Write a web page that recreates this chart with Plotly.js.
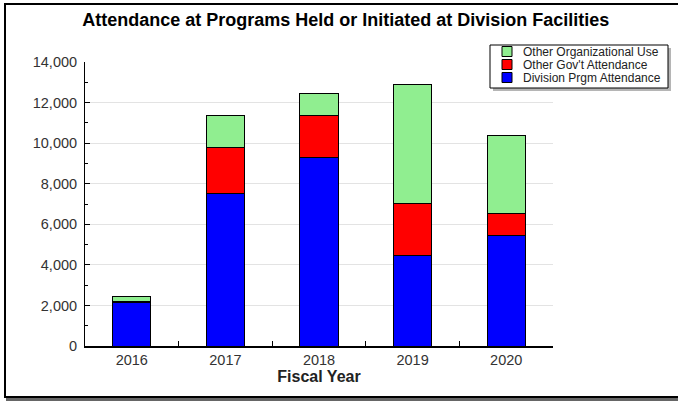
<!DOCTYPE html>
<html>
<head>
<meta charset="utf-8">
<script src="https://cdn.plot.ly/plotly-3.0.1.min.js"></script>
<style>
  html, body { margin:0; padding:0; background:#fff; }
  #wrap { position:relative; width:678px; height:401px; overflow:hidden; }
  #chart { position:absolute; left:0; top:0; width:678px; height:401px; }
  #frame { position:absolute; left:4px; top:3px; width:700px; height:391px;
           border-left:2px solid #000; border-top:2px solid #000; border-bottom:2px solid #000;
           box-shadow: 2px 4px 0 #666; pointer-events:none; }
</style>
</head>
<body>
<div id="wrap">
  <div id="chart"></div>
  <div id="frame"></div>
</div>
<script>
const years = ['2016', '2017', '2018', '2019', '2020'];
const divisionPrgm = [2150, 7540, 9300, 4450, 5470];
const otherGov = [60, 2250, 2070, 2580, 1050];
const otherOrg = [240, 1580, 1100, 5850, 3880];
const yTickVals = [0, 2000, 4000, 6000, 8000, 10000, 12000, 14000];
const yTickText = ['0', '2,000', '4,000', '6,000', '8,000', '10,000', '12,000', '14,000'];
const seriesNames = ['Division Prgm Attendance', "Other Gov't Attendance", 'Other Organizational Use'];
const seriesColors = ['#0000FF', '#FF0000', '#90EE90'];

const M = {l: 85, r: 125, t: 62, b: 55};
const W = 678, H = 401;
const PW = W - M.l - M.r, PH = H - M.t - M.b;
const px = x => (x - M.l) / PW;
const py = y => (H - M.b - y) / PH;

const line = {color: '#000', width: 1};
const series = [divisionPrgm, otherGov, otherOrg];
const traces = series.map((vals, i) => ({
  type: 'bar', name: seriesNames[i], x: years, y: vals,
  marker: {color: seriesColors[i], line: line}, width: 0.41, showlegend: false
}));

// custom legend (box, swatches, labels)
const shapes = [
  {type: 'rect', xref: 'paper', yref: 'paper', x0: px(493), x1: px(671), y0: py(48), y1: py(91),
   fillcolor: '#b5b5b5', line: {width: 0}, layer: 'above'},
  {type: 'rect', xref: 'paper', yref: 'paper', x0: px(490), x1: px(668), y0: py(45), y1: py(88),
   fillcolor: '#fff', line: {color: '#000', width: 1}, layer: 'above'}
];
const annotations = [];
const legendRows = [2, 1, 0];
legendRows.forEach((si, r) => {
  const cy = 51.5 + r * 13;
  shapes.push({type: 'rect', xref: 'paper', yref: 'paper', x0: px(502), x1: px(512),
    y0: py(cy - 5), y1: py(cy + 5), fillcolor: seriesColors[si], line: {color: '#000', width: 1}, layer: 'above'});
  annotations.push({xref: 'paper', yref: 'paper', x: px(521), y: py(cy), xanchor: 'left', yanchor: 'middle',
    text: seriesNames[si], showarrow: false, font: {size: 12, color: '#222'}});
});

const layout = {
  width: W, height: H,
  margin: M,
  barmode: 'stack',
  paper_bgcolor: '#fff', plot_bgcolor: '#fff',
  font: {family: 'Liberation Sans, Arial, sans-serif', color: '#333', size: 12},
  title: {text: 'Attendance at Programs Held or Initiated at Division Facilities',
          font: {size: 18, color: '#000', family: 'Liberation Sans, Arial, sans-serif', weight: 'bold'},
          x: 0.51, xref: 'container', xanchor: 'center', y: 0.95, yref: 'container', yanchor: 'middle'},
  xaxis: {
    type: 'category', tickson: 'boundaries', ticks: 'inside', ticklen: 5, tickcolor: '#000',
    showline: true, linecolor: '#000', linewidth: 1.5, showgrid: false, zeroline: false,
    tickfont: {size: 14.5, color: '#333'},
    title: {text: 'Fiscal Year', font: {size: 16, color: '#222', weight: 'bold'}, standoff: 3},
    range: [-0.5, 4.5]
  },
  yaxis: {
    range: [0, 14000], tickvals: yTickVals, ticktext: yTickText,
    ticks: 'inside', ticklen: 5, tickcolor: '#000',
    showline: true, linecolor: '#000', linewidth: 1, zeroline: false,
    showgrid: true, gridcolor: '#e3e3e3', gridwidth: 1,
    tickfont: {size: 14.5, color: '#333'}, ticklabelstandoff: 4,
    minor: {dtick: 1000, tick0: 0, ticks: 'inside', ticklen: 3, tickcolor: '#000', showgrid: false}
  },
  shapes: shapes,
  annotations: annotations,
  showlegend: false
};

Plotly.newPlot('chart', traces, layout, {displayModeBar: false, staticPlot: true});
</script>
</body>
</html>
